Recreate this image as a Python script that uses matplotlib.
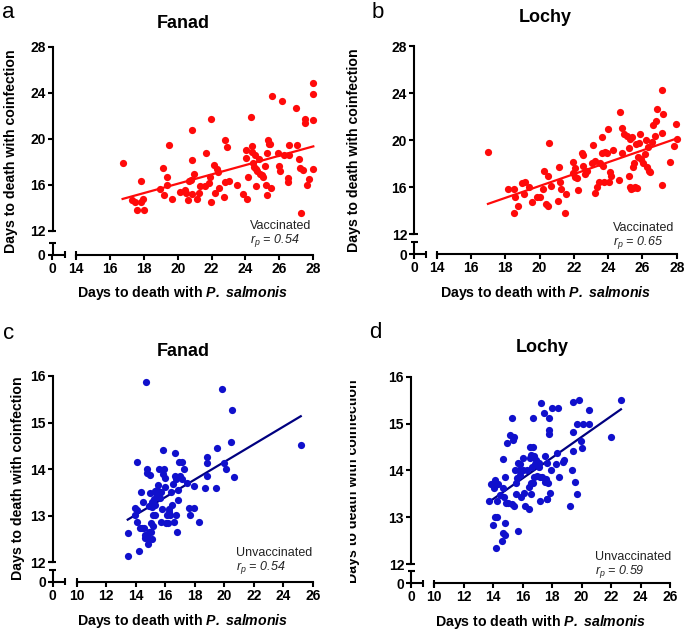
import numpy as np
import matplotlib
matplotlib.use("Agg")
import matplotlib.pyplot as plt
from matplotlib.transforms import Bbox, TransformedBbox

plt.rcParams['font.family'] = ['Liberation Sans', 'DejaVu Sans']
plt.rcParams['mathtext.fontset'] = 'custom'
plt.rcParams['mathtext.rm'] = 'Liberation Sans'
plt.rcParams['mathtext.it'] = 'Liberation Sans:italic'
plt.rcParams['mathtext.bf'] = 'Liberation Sans:bold:italic'

# ---------------- data (days to death: P. salmonis, coinfection) ----------------
fanad_vaccinated = [
    (16.75, 17.87), (17.28, 14.69), (17.48, 14.49), (17.62, 13.82), (17.82, 14.49), (17.85, 16.37),
    (17.97, 14.75), (17.99, 13.82), (18.96, 15.67), (19.15, 17.50), (19.21, 15.15), (19.35, 15.96),
    (19.39, 16.69), (19.49, 19.49), (19.68, 14.75), (20.14, 15.41), (20.41, 15.53), (20.47, 15.33),
    (20.61, 14.72), (20.67, 16.37), (20.80, 16.43), (20.84, 18.13), (20.84, 20.77), (20.84, 15.21),
    (20.96, 16.95), (21.12, 14.81), (21.24, 15.33), (21.32, 15.91), (21.61, 15.94), (21.65, 18.80),
    (21.87, 16.20), (21.91, 16.69), (21.98, 21.75), (21.98, 14.49), (22.14, 17.70), (22.20, 15.33),
    (22.30, 17.41), (22.36, 17.15), (22.42, 15.76), (22.73, 14.98), (22.81, 16.25), (23.03, 16.34),
    (22.81, 19.87), (22.89, 19.32), (23.52, 15.96), (23.83, 15.21), (24.01, 18.31), (24.03, 19.03),
    (24.11, 14.75), (24.17, 16.72), (24.30, 21.87), (24.36, 19.38), (24.40, 18.86), (24.46, 17.87),
    (24.50, 17.58), (24.56, 18.60), (24.60, 17.35), (24.62, 15.91), (24.70, 17.18), (24.78, 18.22),
    (24.86, 16.95), (24.95, 16.86), (25.05, 16.72), (25.15, 17.64), (25.21, 15.96), (25.25, 18.77),
    (25.29, 15.13), (25.35, 19.90), (25.37, 19.55), (25.45, 19.55), (25.50, 15.70), (25.58, 23.72),
    (25.90, 18.74), (26.00, 17.67), (26.04, 17.21), (26.15, 23.26), (26.27, 18.60), (26.51, 16.60),
    (26.53, 16.22), (26.59, 19.47), (26.59, 18.57), (26.98, 22.68), (27.02, 19.47), (27.16, 18.28),
    (27.20, 17.50), (27.27, 13.59), (27.41, 17.30), (27.51, 21.75), (27.51, 21.40), (27.65, 15.96),
    (27.75, 16.54), (28.00, 24.88), (28.00, 23.89), (28.00, 21.64), (28.00, 17.35),
]

lochy_vaccinated = [
    (16.99, 19.03), (18.14, 15.85), (18.53, 15.85), (18.57, 15.20), (18.53, 13.84), (18.76, 14.41),
    (18.98, 16.33), (19.13, 16.42), (19.11, 15.40), (19.41, 15.99), (19.54, 14.72), (19.87, 15.20),
    (20.03, 15.20), (20.22, 15.85), (20.28, 17.41), (20.36, 14.55), (20.51, 14.44), (20.47, 16.99),
    (20.57, 19.73), (20.69, 16.14), (21.10, 14.86), (21.12, 17.75), (21.21, 16.42), (21.23, 15.85),
    (21.47, 13.84), (21.56, 15.40), (21.97, 18.12), (21.97, 17.18), (22.05, 16.90), (22.09, 17.61),
    (22.21, 16.79), (22.24, 15.77), (22.48, 18.94), (22.52, 17.81), (22.52, 18.74), (22.67, 17.13),
    (22.75, 17.41), (23.04, 18.03), (23.10, 19.59), (23.22, 18.23), (23.26, 15.48), (23.33, 15.99),
    (23.49, 16.48), (23.53, 18.03), (23.66, 20.30), (23.70, 17.84), (23.66, 18.88), (23.76, 16.48),
    (23.82, 19.03), (23.92, 18.88), (24.01, 20.92), (24.07, 16.48), (24.11, 17.33), (24.15, 16.96),
    (24.31, 19.17), (24.62, 16.62), (24.71, 22.43), (24.79, 18.88), (24.81, 21.07), (24.95, 20.50),
    (25.08, 20.36), (25.20, 19.31), (25.22, 16.99), (25.28, 16.05), (25.30, 20.07), (25.36, 15.82),
    (25.41, 20.24), (25.43, 17.75), (25.47, 15.91), (25.49, 18.03), (25.57, 16.05), (25.63, 19.68),
    (25.71, 15.97), (25.72, 18.54), (25.80, 19.73), (25.86, 20.53), (25.94, 18.37), (26.06, 18.09),
    (26.15, 18.80), (26.21, 20.02), (26.29, 17.75), (26.35, 19.45), (26.37, 17.41), (26.44, 17.33),
    (26.56, 19.88), (26.72, 20.36), (26.64, 21.29), (26.79, 21.63), (26.87, 22.62), (27.12, 24.27),
    (27.12, 20.64), (27.14, 16.19), (27.18, 22.20), (27.61, 18.12), (27.86, 19.54), (27.96, 21.38),
    (28.00, 20.07),
]

fanad_unvaccinated = [
    (13.46, 12.14), (13.46, 12.62), (14.11, 14.16), (13.98, 13.16), (13.93, 13.02), (14.07, 13.12),
    (14.11, 12.86), (14.25, 12.25), (14.29, 12.74), (14.34, 13.50), (14.41, 12.74), (14.47, 13.29),
    (14.56, 12.74), (14.61, 12.59), (14.66, 12.52), (14.75, 13.91), (14.79, 14.01), (14.86, 12.52),
    (14.86, 12.39), (14.90, 12.66), (14.93, 13.21), (14.97, 13.87), (14.95, 13.48), (15.02, 12.84),
    (15.06, 12.66), (15.08, 13.19), (15.11, 13.30), (15.11, 12.49), (15.15, 13.02), (15.20, 12.77),
    (15.27, 13.35), (15.29, 13.01), (15.33, 13.54), (15.33, 13.24), (15.38, 13.48), (15.42, 13.46),
    (15.47, 13.55), (15.54, 13.67), (15.56, 14.01), (15.60, 13.41), (15.65, 13.37), (15.72, 13.50),
    (15.74, 12.87), (15.79, 13.14), (15.83, 14.41), (15.83, 13.90), (15.90, 14.00), (15.97, 13.80),
    (16.01, 13.61), (16.06, 12.85), (16.10, 13.02), (16.17, 12.84), (16.24, 13.09), (16.28, 13.14),
    (16.33, 13.02), (16.40, 13.52), (16.46, 13.23), (16.53, 13.68), (16.60, 12.87), (16.64, 13.85),
    (16.69, 14.34), (16.71, 13.78), (16.73, 13.02), (16.78, 12.64), (16.85, 13.34), (16.89, 13.55),
    (16.94, 14.15), (17.03, 13.85), (17.12, 13.78), (17.14, 14.15), (17.25, 14.01), (17.46, 13.70),
    (17.64, 13.16), (17.68, 13.02), (17.98, 13.16), (17.98, 13.64), (18.29, 12.87), (18.72, 13.59),
    (18.81, 14.27), (18.86, 14.14), (18.86, 13.85), (19.45, 13.59), (19.49, 14.46), (19.85, 15.73),
    (19.99, 14.14), (20.12, 14.01), (20.49, 14.58), (20.55, 15.26), (20.64, 13.84), (25.19, 14.51),
    (14.70, 15.87),
]

lochy_unvaccinated = [
    (13.71, 13.34), (13.82, 13.71), (13.96, 12.84), (14.05, 13.63), (14.12, 13.80), (14.14, 13.00),
    (14.16, 12.34), (14.23, 13.00), (14.23, 13.34), (14.32, 13.71), (14.46, 13.48), (14.59, 12.50),
    (14.64, 12.66), (14.68, 14.25), (14.68, 13.63), (14.73, 13.43), (14.77, 12.63), (14.80, 13.87),
    (14.82, 12.87), (14.84, 13.30), (14.95, 14.58), (15.02, 13.30), (15.11, 14.76), (15.27, 13.29),
    (15.29, 15.12), (15.36, 14.65), (15.41, 13.25), (15.43, 14.71), (15.45, 14.01), (15.52, 13.50),
    (15.54, 13.73), (15.63, 13.85), (15.68, 12.71), (15.66, 14.15), (15.77, 14.01), (15.81, 14.14),
    (15.81, 13.90), (15.88, 13.44), (16.00, 14.26), (16.02, 14.01), (16.09, 13.51), (16.18, 13.24),
    (16.31, 14.00), (16.40, 13.17), (16.45, 13.64), (16.49, 14.51), (16.52, 14.27), (16.54, 14.33),
    (16.56, 13.50), (16.58, 13.74), (16.61, 14.08), (16.67, 14.51), (16.67, 13.73), (16.72, 15.13),
    (16.74, 13.87), (16.76, 14.30), (16.86, 14.14), (16.90, 14.22), (16.95, 13.88), (17.08, 14.17),
    (17.13, 14.08), (17.17, 13.87), (17.19, 13.34), (17.22, 15.43), (17.31, 13.87), (17.44, 15.23),
    (17.49, 14.30), (17.51, 13.76), (17.58, 13.81), (17.62, 13.40), (17.65, 14.15), (17.67, 13.39),
    (17.71, 13.73), (17.81, 15.11), (17.81, 14.77), (17.81, 14.86), (17.85, 13.51), (17.94, 14.00),
    (17.99, 15.33), (18.26, 14.13), (18.33, 14.38), (18.42, 15.33), (18.48, 13.87), (18.71, 14.19),
    (18.80, 14.22), (19.37, 14.00), (19.39, 14.42), (19.39, 14.83), (19.43, 15.47), (19.57, 13.76),
    (19.66, 13.50), (19.71, 14.99), (19.84, 15.50), (19.98, 14.62), (20.05, 14.49), (20.11, 14.99),
    (20.48, 14.99), (20.48, 15.29), (21.99, 14.71), (22.67, 15.50), (19.21, 13.25),
]

xticks_vacc = [14, 16, 18, 20, 22, 24, 26, 28]
yticks_vacc = [12, 16, 20, 24, 28]
xticks_unvacc = [10, 12, 14, 16, 18, 20, 22, 24, 26]
yticks_unvacc = [12, 13, 14, 15, 16]

panel_letters = ['a', 'b', 'c', 'd']
panel_titles = ['Fanad', 'Lochy', 'Fanad', 'Lochy']
group_labels = ['Vaccinated', 'Vaccinated', 'Unvaccinated', 'Unvaccinated']
r_values = ['0.54', '0.65', '0.54', '0.59']

XLABEL = r'Days to death with $\mathbf{P.\ salmonis}$'
YLABEL = 'Days to death with coinfection'

RED = '#ff0a0a'
BLUE_PT = '#1010cc'
BLUE_LN = '#000080'

W, H = 685, 632
fig = plt.figure(figsize=(W / 100, H / 100), dpi=100)
LW = 1.5


def fx(px):
    return px / W


def fy(py):
    return 1 - py / H


def make_panel(i, data, pt_color, ln_color, xticks, yticks, geom, title_xy, letter_xy,
               xlabel_xy, ylabel_xy, note_xy, clip_ylabel_at=None):
    ox, oy, x0px, x1px, y0px, y1px = geom
    sx = (x1px - x0px) / (xticks[-1] - xticks[0])
    sy = (y0px - y1px) / (yticks[-1] - yticks[0])
    xmin = xticks[0] - (x0px - ox) / sx
    ymin = yticks[0] - (oy - y0px) / sy
    wpx = x1px - ox
    hpx = oy - y1px
    ax = fig.add_axes([fx(ox), fy(oy), wpx / W, hpx / H])
    ax.set_xlim(xmin, xticks[-1])
    ax.set_ylim(ymin, yticks[-1])
    ax.patch.set_visible(False)
    for s in ['top', 'right']:
        ax.spines[s].set_visible(False)
    for s in ['left', 'bottom']:
        ax.spines[s].set_linewidth(LW)
    ax.spines['bottom'].set_bounds(xticks[0], xticks[-1])
    ax.spines['left'].set_bounds(yticks[0], yticks[-1])
    ax.set_xticks([xmin] + list(xticks), ['0'] + [str(t) for t in xticks],
                  fontweight='bold', fontsize=10)
    ax.set_yticks([ymin] + list(yticks), ['0'] + [str(t) for t in yticks],
                  fontweight='bold', fontsize=10)
    ax.tick_params(direction='out', length=3.5, width=LW, pad=1.5, colors='black')

    # broken-axis stubs near the origin
    L = 12.0
    c = 3.5
    kw = dict(transform=ax.transAxes, clip_on=False, color='black', lw=LW,
              solid_capstyle='butt')
    ax.plot([0, L / wpx], [0, 0], **kw)
    ax.plot([L / wpx, L / wpx], [-c / hpx, c / hpx], **kw)
    ax.plot([0, 0], [0, L / hpx], **kw)
    ax.plot([-c / wpx, c / wpx], [L / hpx, L / hpx], **kw)
    xs0 = (x0px - ox) / wpx
    ys0 = (oy - y0px) / hpx
    ax.plot([xs0, xs0], [-c / hpx, c / hpx], **kw)
    ax.plot([-c / wpx, c / wpx], [ys0, ys0], **kw)

    xs = np.array([p[0] for p in data])
    ys = np.array([p[1] for p in data])
    ax.scatter(xs, ys, s=27, c=pt_color, linewidths=0, clip_on=False, zorder=3)
    b, a = np.polyfit(xs, ys, 1)
    xx = np.array([xs.min(), xs.max()])
    ax.plot(xx, a + b * xx, color=ln_color, lw=1.6, zorder=2, clip_on=False)

    fig.text(fx(title_xy[0]), fy(title_xy[1]), panel_titles[i], ha='center', va='center',
             fontsize=13, fontweight='bold')
    fig.text(fx(letter_xy[0]), fy(letter_xy[1]), panel_letters[i], ha='left', va='baseline',
             fontsize=16)
    fig.text(fx(xlabel_xy[0]), fy(xlabel_xy[1]), XLABEL, ha='center', va='center',
             fontsize=10.2, fontweight='bold')
    yl = fig.text(fx(ylabel_xy[0]), fy(ylabel_xy[1]), YLABEL, ha='center', va='center',
                  rotation=90, fontsize=10.2, fontweight='bold')
    if clip_ylabel_at is not None:
        yl.set_clip_box(TransformedBbox(Bbox.from_extents(fx(clip_ylabel_at), 0, 1, 1),
                                        fig.transFigure))
        yl.set_clip_on(True)
    fig.text(fx(note_xy[0]), fy(note_xy[1]), group_labels[i], ha='left', va='center',
             fontsize=9, color='#222222')
    fig.text(fx(note_xy[0]), fy(note_xy[1] + 14.5), r'$r_p$ = ' + r_values[i], ha='left',
             va='center', fontsize=9, color='#222222', fontstyle='italic')
    return ax


make_panel(0, fanad_vaccinated, RED, RED, xticks_vacc, yticks_vacc,
           (52.5, 255, 76, 313.3, 231, 46.7), (183, 23), (2, 18), (183, 293), (11, 151),
           (250, 226))
make_panel(1, lochy_vaccinated, RED, RED, xticks_vacc, yticks_vacc,
           (414, 254.3, 436.7, 676.7, 234.3, 46), (545, 18), (372, 18), (546, 293), (354, 150),
           (613, 228))
make_panel(2, fanad_unvaccinated, BLUE_PT, BLUE_LN, xticks_unvacc, yticks_unvacc,
           (52.7, 581.7, 76.7, 312.7, 562.3, 376), (183, 352), (3, 339), (183, 621), (18, 478),
           (236, 553))
make_panel(3, lochy_unvaccinated, BLUE_PT, BLUE_LN, xticks_unvacc, yticks_unvacc,
           (411, 583.3, 434.3, 670, 564.3, 376.7), (542, 347), (369, 338), (541, 622), (353, 481),
           (595, 557), clip_ylabel_at=350)

fig.savefig('out.png', dpi=100)
